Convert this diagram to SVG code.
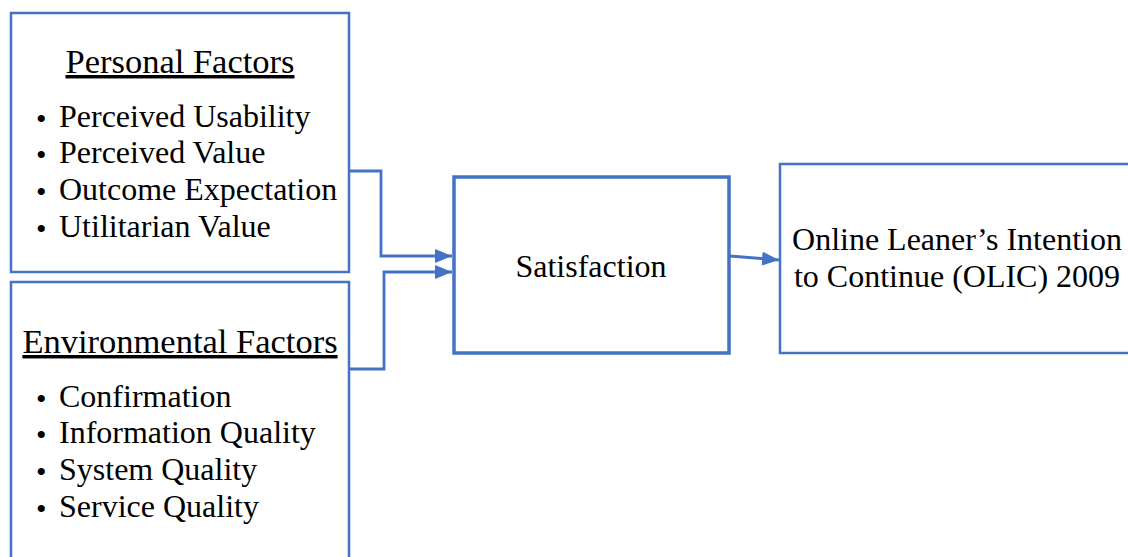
<svg xmlns="http://www.w3.org/2000/svg" width="1128" height="557" viewBox="0 0 1128 557">
<style>
.box{fill:#fff;stroke:#4472C4;stroke-width:2.5}
.thick{stroke-width:3.5}
.t{font-family:"Liberation Serif","Times New Roman",serif;font-size:32px;fill:#000}
.h{font-size:34.5px}
.b{font-size:30px}
.c{stroke:#4472C4;stroke-width:2.8;fill:none}
</style>
<defs>
<marker id="ah" viewBox="0 0 17 14" refX="17" refY="7" markerWidth="17" markerHeight="14" markerUnits="userSpaceOnUse" orient="auto">
<path d="M0,0 L17,7 L0,14 z" fill="#4472C4"/>
</marker>
</defs>
<rect width="1128" height="557" fill="#fff"/>
<g id="personal">
<rect class="box" x="11" y="13" width="338" height="259"/>
<text class="t h" x="180" y="73" text-anchor="middle" text-decoration="underline">Personal Factors</text>
<text class="t b" x="36" y="129">•</text><text class="t" x="59" y="127">Perceived Usability</text>
<text class="t b" x="36" y="165">•</text><text class="t" x="59" y="163">Perceived Value</text>
<text class="t b" x="36" y="202">•</text><text class="t" x="59" y="200">Outcome Expectation</text>
<text class="t b" x="36" y="239">•</text><text class="t" x="59" y="237">Utilitarian Value</text>
</g>
<g id="environmental">
<rect class="box" x="11" y="282" width="338" height="290"/>
<text class="t h" x="180" y="353" text-anchor="middle" text-decoration="underline">Environmental Factors</text>
<text class="t b" x="36" y="409">•</text><text class="t" x="59" y="407">Confirmation</text>
<text class="t b" x="36" y="445">•</text><text class="t" x="59" y="443">Information Quality</text>
<text class="t b" x="36" y="482">•</text><text class="t" x="59" y="480">System Quality</text>
<text class="t b" x="36" y="519">•</text><text class="t" x="59" y="517">Service Quality</text>
</g>
<g id="satisfaction">
<rect class="box thick" x="454" y="177" width="275" height="176"/>
<text class="t" x="591" y="277" text-anchor="middle">Satisfaction</text>
</g>
<g id="olic">
<rect class="box" x="780" y="164" width="360" height="189"/>
<text class="t" x="957" y="250" text-anchor="middle">Online Leaner’s Intention</text>
<text class="t" x="957" y="287" text-anchor="middle">to Continue (OLIC) 2009</text>
</g>
<g id="connectors">
<path class="c" d="M349,171 H381 V256 H452" marker-end="url(#ah)"/>
<path class="c" d="M349,369 H384 V272 H452" marker-end="url(#ah)"/>
<path class="c" d="M730,256 L779,260" marker-end="url(#ah)"/>
</g>
</svg>
